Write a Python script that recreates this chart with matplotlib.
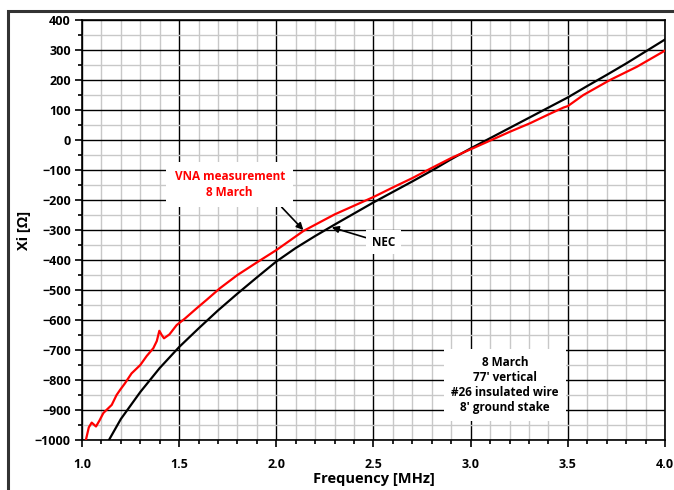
import matplotlib
matplotlib.use("Agg")
import matplotlib.pyplot as plt
from matplotlib.ticker import MultipleLocator
from matplotlib.patches import Rectangle

plt.rcParams['font.family'] = ['Open Sans', 'DejaVu Sans']
plt.rcParams['font.weight'] = 'bold'

# NEC model (black)
nec_f = [1.13, 1.2, 1.3, 1.4, 1.5, 1.6, 1.7, 1.8, 1.9, 2.0, 2.1, 2.2, 2.3, 2.4, 2.5,
         2.6, 2.7, 2.8, 2.9, 3.0, 3.1, 3.2, 3.3, 3.4, 3.5, 3.6, 3.7, 3.8, 3.9, 4.0]
nec_x = [-1010, -930, -840, -760, -690, -628, -568, -512, -458, -405, -360, -320, -282, -245, -208,
         -173, -138, -102, -64, -28, 6, 40, 74, 108, 142, 180, 217, 255, 295, 335]

# VNA measurement 8 March (red)
vna_f = [1.02, 1.035, 1.05, 1.072, 1.09, 1.11, 1.153, 1.178, 1.196, 1.22, 1.255, 1.3, 1.333,
         1.367, 1.385, 1.398, 1.41, 1.422, 1.45, 1.487, 1.53, 1.59, 1.641, 1.71, 1.8, 1.9,
         2.0, 2.14, 2.3, 2.5, 2.6, 2.7, 2.8, 2.9, 3.0, 3.1, 3.2, 3.306, 3.4, 3.477, 3.5, 3.58,
         3.717, 3.855, 4.0]
vna_x = [-1000, -958, -942, -955, -935, -910, -883, -850, -833, -812, -778, -750, -720,
         -694, -670, -636, -650, -661, -648, -617, -595, -561, -533, -494, -450, -408,
         -367, -303, -248, -190, -158, -127, -93, -60, -31, -2, 27, 56, 85, 108, 113, 150,
         200, 244, 298]

fig = plt.figure(figsize=(6.74, 4.9), dpi=100)
ax = fig.add_axes([82 / 674, 1 - 440 / 490, 583 / 674, 420 / 490])

ax.set_xlim(1.0, 4.0)
ax.set_ylim(-1000, 400)
ax.xaxis.set_major_locator(MultipleLocator(0.5))
ax.xaxis.set_minor_locator(MultipleLocator(0.1))
ax.yaxis.set_major_locator(MultipleLocator(100))
ax.yaxis.set_minor_locator(MultipleLocator(50))
ax.xaxis.set_major_formatter(lambda v, p: f"{v:.1f}")

ax.grid(which='minor', color='#c8c8c8', linewidth=1.0, zorder=0)
ax.grid(which='major', color='black', linewidth=1.0, zorder=0)
ax.set_axisbelow(True)
for s in ax.spines.values():
    s.set_linewidth(1.2)

ax.tick_params(which='major', direction='out', length=5, width=1.2, labelsize=9, pad=3)
ax.tick_params(which='minor', direction='out', length=3, width=1.2)
for lbl in ax.get_xticklabels() + ax.get_yticklabels():
    lbl.set_fontweight('bold')
ax.tick_params(axis='x', pad=8)

ax.plot(nec_f, nec_x, color='black', linewidth=1.6, zorder=3)
ax.plot(vna_f, vna_x, color='red', linewidth=1.6, zorder=4)

ax.set_xlabel('Frequency [MHz]', fontsize=10.5, fontweight='bold', labelpad=1)
ax.set_ylabel('Xi [Ω]', fontsize=10.5, fontweight='bold', labelpad=3)

ax.annotate('VNA measurement\n8 March', xy=(2.139, -300), xytext=(1.76, -148),
            ha='center', va='center', fontsize=8.5, fontweight='bold', color='red',
            linespacing=1.3,
            bbox=dict(boxstyle='square,pad=0.7', fc='white', ec='none'),
            arrowprops=dict(arrowstyle='-|>', color='black', lw=1.2, mutation_scale=10,
                            shrinkA=0, shrinkB=0, relpos=(0.85, 0.2)), zorder=6)

ax.annotate('NEC', xy=(2.285, -291), xytext=(2.55, -340),
            ha='center', va='center', fontsize=8.5, fontweight='bold', color='black',
            bbox=dict(boxstyle='square,pad=0.5', fc='white', ec='none'),
            arrowprops=dict(arrowstyle='-|>', color='black', lw=1.2, mutation_scale=10,
                            shrinkA=0, shrinkB=0, relpos=(0.0, 0.7)), zorder=6)

ax.text(3.177, -817, "8 March\n77' vertical\n#26 insulated wire\n8' ground stake",
        ha='center', va='center', fontsize=8.5, fontweight='bold', color='black',
        linespacing=1.2,
        bbox=dict(boxstyle='square,pad=0.6', fc='white', ec='none'), zorder=6)

# outer frame of the figure
fig.patches.append(Rectangle((8 / 674, -0.2), 1.2, 1.2 - 11 / 490,
                             transform=fig.transFigure, fill=False,
                             ec='#333333', lw=2.2, zorder=10))

fig.savefig('out.png', dpi=100)
